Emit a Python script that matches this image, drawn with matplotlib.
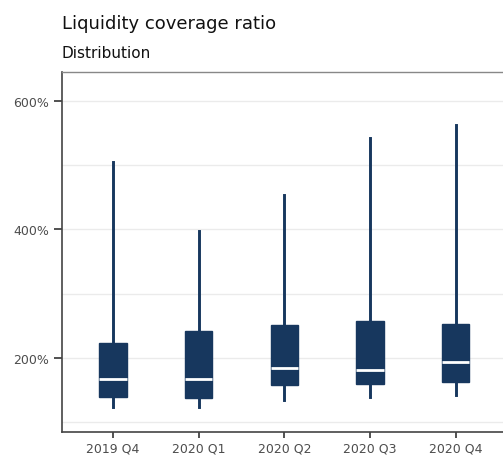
import matplotlib
matplotlib.use('Agg')
import matplotlib.pyplot as plt
from matplotlib.ticker import FixedLocator, FuncFormatter

# (percent)
quarters = ['2019 Q4', '2020 Q1', '2020 Q2', '2020 Q3', '2020 Q4']
whisker_low = [124, 123, 134, 140, 142]
box_low = [140, 138, 158, 160, 163]
medians = [167, 167, 184, 182, 194]
box_high = [223, 242, 251, 258, 253]
whisker_high = [505, 398, 454, 542, 563]

navy = '#17375e'
grey_text = '#4d4d4d'

plt.rcParams['font.family'] = ['DejaVu Sans']

fig = plt.figure(figsize=(5.03, 4.56), dpi=100)
W, H = 503, 456
left, right, bottom, top = 61.5, 507, 433, 73
ax = fig.add_axes([left / W, (H - bottom) / H, (right - left) / W, (bottom - top) / H])

stats = []
for q, wl, bl, m, bh, wh in zip(quarters, whisker_low, box_low, medians, box_high, whisker_high):
    stats.append({'label': q, 'whislo': wl, 'q1': bl, 'med': m, 'q3': bh, 'whishi': wh, 'fliers': []})

ax.bxp(stats, positions=range(1, len(quarters) + 1), widths=0.32, patch_artist=True,
       showcaps=False, showfliers=False,
       boxprops=dict(facecolor=navy, edgecolor=navy, linewidth=1),
       whiskerprops=dict(color=navy, linewidth=2.1),
       medianprops=dict(color='white', linewidth=2))

ax.set_xlim(0.4, 5.6)
ax.set_ylim(84.8, 645)

ax.yaxis.set_major_locator(FixedLocator([200, 400, 600]))
ax.yaxis.set_minor_locator(FixedLocator([100, 300, 500]))
ax.yaxis.set_major_formatter(FuncFormatter(lambda v, p: f'{v:.0f}%'))
ax.grid(True, which='both', axis='y', color='#ebebeb', linewidth=1)
ax.set_axisbelow(True)

ax.tick_params(axis='both', which='major', width=1.2, color='#333333',
               labelcolor=grey_text, labelsize=9)
ax.tick_params(axis='x', length=4, pad=3)
ax.tick_params(axis='y', length=5.5, pad=3.5)
ax.tick_params(axis='y', which='minor', length=0)
ax.set_xticks(range(1, len(quarters) + 1))
ax.set_xticklabels(quarters)

for s in ['left', 'bottom']:
    ax.spines[s].set_color('#444444')
    ax.spines[s].set_linewidth(1.2)
for s in ['top', 'right']:
    ax.spines[s].set_color('#888888')
    ax.spines[s].set_linewidth(1)

fig.text(61.5 / W, 1 - 29 / H, 'Liquidity coverage ratio', fontsize=13, color='#111111',
         ha='left', va='baseline')
fig.text(61.5 / W, 1 - 58 / H, 'Distribution', fontsize=11, color='#111111',
         ha='left', va='baseline')

fig.savefig('out.png', dpi=100)
